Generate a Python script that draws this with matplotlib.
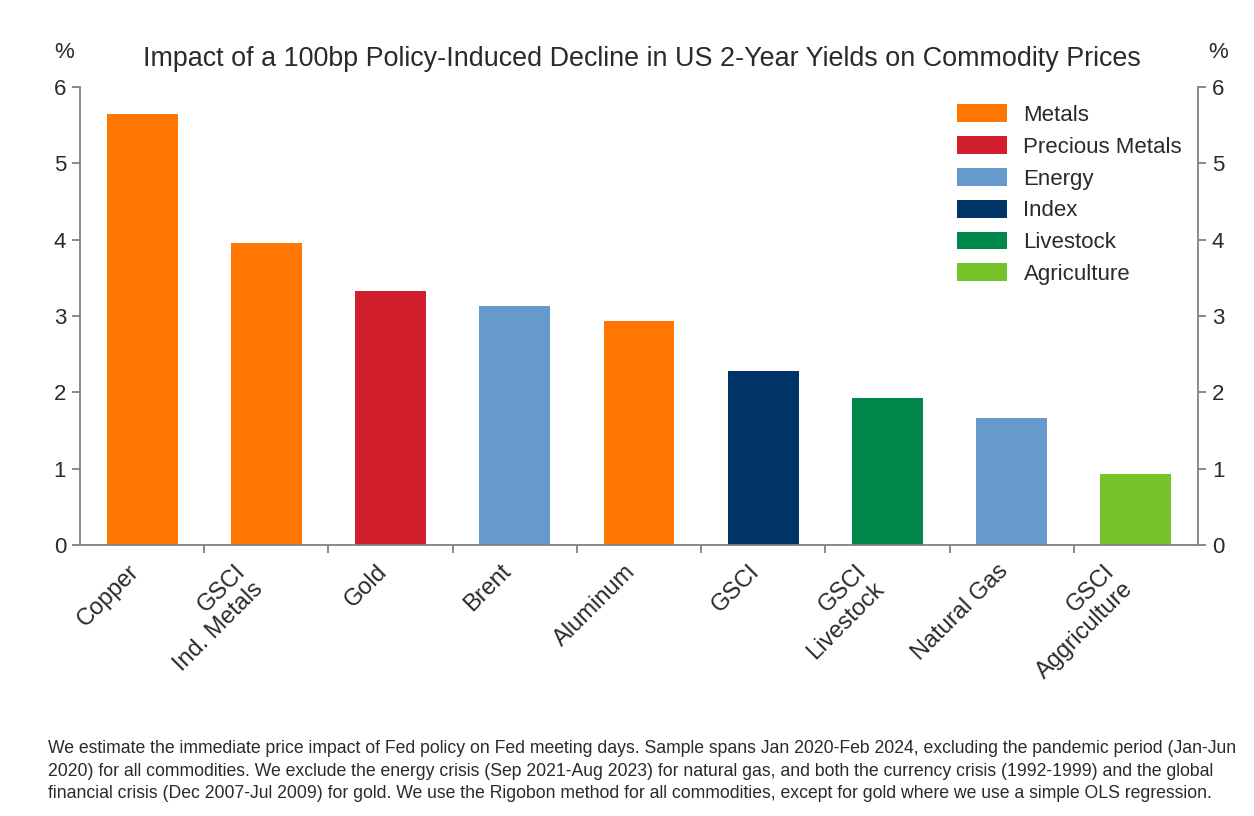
import matplotlib
matplotlib.use("Agg")
import matplotlib.pyplot as plt
from matplotlib.patches import Patch

plt.rcParams['font.family'] = ['Liberation Sans', 'DejaVu Sans']

# Datos
labels = ["Copper", "GSCI\nInd. Metals", "Gold", "Brent", "Aluminum",
          "GSCI", "GSCI\nLivestock", "Natural Gas", "GSCI\nAggriculture"]
values = [5.64, 3.96, 3.33, 3.13, 2.94, 2.28, 1.93, 1.66, 0.93]
groups = ["Metals", "Metals", "Precious Metals", "Energy", "Metals",
          "Index", "Livestock", "Energy", "Agriculture"]

legend_names = ["Metals", "Precious Metals", "Energy", "Index", "Livestock", "Agriculture"]
colors = {"Metals": "#FF7700", "Precious Metals": "#D11F2D", "Energy": "#6699CC",
          "Index": "#003466", "Livestock": "#00874A", "Agriculture": "#76C22A"}

title = "Impact of a 100bp Policy-Induced Decline in US 2-Year Yields on Commodity Prices"
note = ("We estimate the immediate price impact of Fed policy on Fed meeting days. Sample spans Jan 2020-Feb 2024, excluding the pandemic period (Jan-Jun\n"
        "2020) for all commodities. We exclude the energy crisis (Sep 2021-Aug 2023) for natural gas, and both the currency crisis (1992-1999) and the global\n"
        "financial crisis (Dec 2007-Jul 2009) for gold. We use the Rigobon method for all commodities, except for gold where we use a simple OLS regression.")

fig = plt.figure(figsize=(12.54, 8.16), dpi=100)
ax = fig.add_axes([0.0638, 0.3321, 0.8915, 0.5613])

x = list(range(len(values)))
ax.bar(x, values, width=0.57, color=[colors[g] for g in groups])

ax.set_xlim(-0.5, len(values) - 0.5)
ax.set_ylim(0, 6)

# ticks entre categorías, etiquetas debajo de cada barra
ax.set_xticks([i + 0.5 for i in x[:-1]])
ax.set_xticklabels([])
for i, lab in enumerate(labels):
    ax.text(i + 0.01, -0.2, lab, rotation=45, ha='right', va='top',
            multialignment='right', fontsize=17, color='#2a2a2a')

gray = '#808080'
ax.spines['top'].set_visible(False)
for s in ['left', 'right', 'bottom']:
    ax.spines[s].set_color(gray)
    ax.spines[s].set_linewidth(1.3)

ax.tick_params(axis='y', left=True, right=True, labelleft=True, labelright=True,
               direction='out', length=6, width=1.3, color=gray, labelsize=16,
               labelcolor='#2a2a2a', pad=4)
ax.tick_params(axis='x', direction='out', length=6, width=1.3, color=gray)
ax.set_yticks(range(0, 7))

fig.text(0.051, 0.936, "%", fontsize=16, ha='center', va='center', color='#2a2a2a')
fig.text(0.971, 0.936, "%", fontsize=16, ha='center', va='center', color='#2a2a2a')
fig.text(0.512, 0.928, title, fontsize=19.4, ha='center', va='center', color='#2a2a2a')

handles = [Patch(facecolor=colors[n], edgecolor='none', label=n) for n in legend_names]
ax.legend(handles=handles, loc='upper left', bbox_to_anchor=(0.763, 0.872),
          bbox_transform=fig.transFigure, frameon=False, fontsize=16,
          handlelength=2.25, handleheight=0.85, labelspacing=0.46, handletextpad=0.75,
          borderpad=0, borderaxespad=0, labelcolor='#2a2a2a')

fig.text(0.038, 0.055, note, fontsize=12.7, ha='left', va='center', color='#2a2a2a',
         linespacing=1.42)

fig.savefig("out.png", dpi=100)
